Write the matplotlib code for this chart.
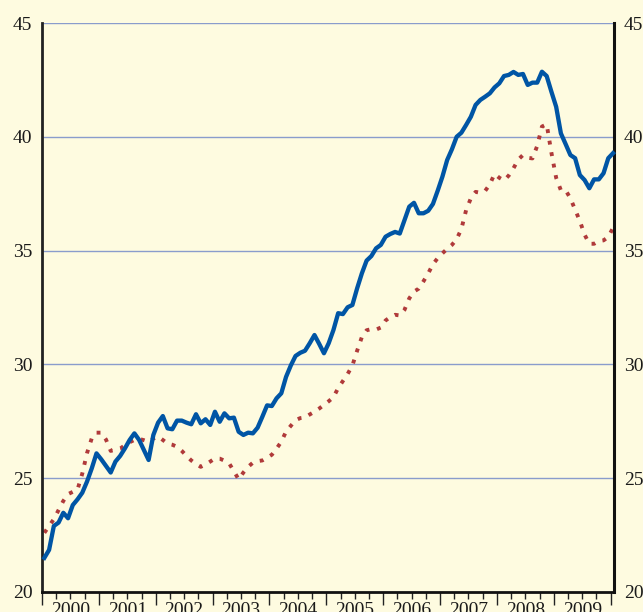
import matplotlib
matplotlib.use("Agg")
import matplotlib.pyplot as plt
import numpy as np

# Monthly observations, January 2000 to January 2010
blue_vals = [
    21.5, 21.85, 22.9, 23.05, 23.48, 23.24, 23.82, 24.07, 24.36, 24.85, 25.43, 26.09,
    25.83, 25.54, 25.25, 25.73, 25.98, 26.31, 26.68, 26.97, 26.68, 26.24, 25.8, 26.9,
    27.44, 27.73, 27.19, 27.15, 27.53, 27.53, 27.44, 27.37, 27.81, 27.41, 27.59, 27.34,
    27.92, 27.48, 27.85, 27.63, 27.66, 27.04, 26.9, 27.0, 26.97, 27.22, 27.7, 28.2,
    28.17, 28.51, 28.73, 29.45, 29.95, 30.37, 30.51, 30.6, 30.93, 31.29, 30.9, 30.49,
    30.93, 31.51, 32.25, 32.21, 32.51, 32.61, 33.34, 34.0, 34.56, 34.76, 35.1, 35.25,
    35.61, 35.73, 35.82, 35.75, 36.34, 36.93, 37.1, 36.64, 36.64, 36.75, 37.05, 37.63,
    38.25, 38.98, 39.45, 40.0, 40.18, 40.52, 40.88, 41.4, 41.62, 41.76, 41.91, 42.17,
    42.35, 42.67, 42.72, 42.85, 42.72, 42.76, 42.28, 42.38, 42.38, 42.86, 42.67, 41.98,
    41.32, 40.15, 39.68, 39.2, 39.06, 38.32, 38.1, 37.74, 38.13, 38.13, 38.4, 39.06,
    39.28,
]
red_vals = [
    22.6, 22.9, 23.2, 23.6, 24.0, 24.3, 24.4, 24.5, 25.2, 26.1, 26.75, 27.0,
    27.0, 26.7, 26.2, 26.25, 26.3, 26.45, 26.58, 26.68, 26.73, 26.67, 26.6, 26.74,
    26.83, 26.68, 26.52, 26.47, 26.38, 26.2, 25.98, 25.78, 25.62, 25.5, 25.6, 25.73,
    25.87, 25.86, 25.77, 25.65, 25.3, 24.95, 25.25, 25.5, 25.68, 25.75, 25.78, 25.9,
    26.03, 26.3, 26.6, 27.05, 27.3, 27.55, 27.64, 27.67, 27.8, 27.92, 28.06, 28.22,
    28.38, 28.56, 28.96, 29.27, 29.58, 29.95, 30.6, 31.2, 31.5, 31.55, 31.53, 31.62,
    31.93, 32.08, 32.18, 32.15, 32.4, 32.9, 33.2, 33.33, 33.65, 34.0, 34.4, 34.67,
    34.88, 35.08, 35.25, 35.5, 35.95, 36.78, 37.3, 37.58, 37.54, 37.62, 37.91, 38.37,
    38.2, 38.08, 38.3, 38.62, 39.0, 39.2, 39.08, 39.05, 39.6, 40.45, 40.55, 39.3,
    38.2, 37.65, 37.65, 37.3, 36.8, 36.3, 35.7, 35.3, 35.3, 35.42, 35.45, 35.6,
    36.0,
]
years = list(range(2000, 2010))
y_ticks = [20, 25, 30, 35, 40, 45]

bg = "#fefbe0"
plt.rcParams["font.family"] = ["Liberation Serif", "DejaVu Serif"]

# month positions (mid-month)
x = 2000 + (np.arange(len(blue_vals)) + 0.5) / 12

fig = plt.figure(figsize=(6.43, 6.12), dpi=100, facecolor=bg)
ax = fig.add_axes([0.0653, 0.0327, 0.8897, 0.9297], facecolor=bg)

# grid lines
for v in y_ticks[1:]:
    ax.axhline(v, color="#8a9ccc", lw=1.0, zorder=1)

ax.plot(x, red_vals, color="#b03a3a", lw=2.8, linestyle=(0, (1, 2.0)),
        dash_capstyle="butt", zorder=2, clip_on=False)
ax.plot(x, blue_vals, color="#0055a5", lw=3.1, solid_joinstyle="round", zorder=3,
        clip_on=False)

ax.set_xlim(2000, 2010.06)
ax.set_ylim(20, 45)

# y axis labels on both sides, no tick marks
ax.set_yticks(y_ticks)
ax.tick_params(axis="y", length=0, labelsize=14, pad=7, labelcolor="#1a1a1a",
               left=True, right=True, labelleft=True, labelright=True)

# x axis: year labels at mid-year, quarter minor ticks
ax.set_xticks([yr + 0.5 for yr in years])
ax.set_xticklabels([str(yr) for yr in years])
ax.set_xticks([yr + q for yr in years for q in (0.25, 0.75)], minor=True)
ax.tick_params(axis="x", which="both", direction="out", length=5, width=1.0,
               color="#222222", labelsize=14, pad=2, labelcolor="#1a1a1a")

# longer ticks at year boundaries
sec = ax.secondary_xaxis("bottom")
sec.set_xticks(years + [2010])
sec.set_xticklabels([])
sec.tick_params(axis="x", direction="out", length=9, width=1.0, color="#222222")
sec.spines["bottom"].set_visible(False)

ax.spines["top"].set_visible(False)
ax.spines["left"].set_linewidth(2.0)
ax.spines["left"].set_color("#222222")
ax.spines["right"].set_linewidth(2.2)
ax.spines["right"].set_color("#111111")
ax.spines["bottom"].set_linewidth(2.0)
ax.spines["bottom"].set_color("#111111")

fig.savefig("out.png", dpi=100, facecolor=bg)
